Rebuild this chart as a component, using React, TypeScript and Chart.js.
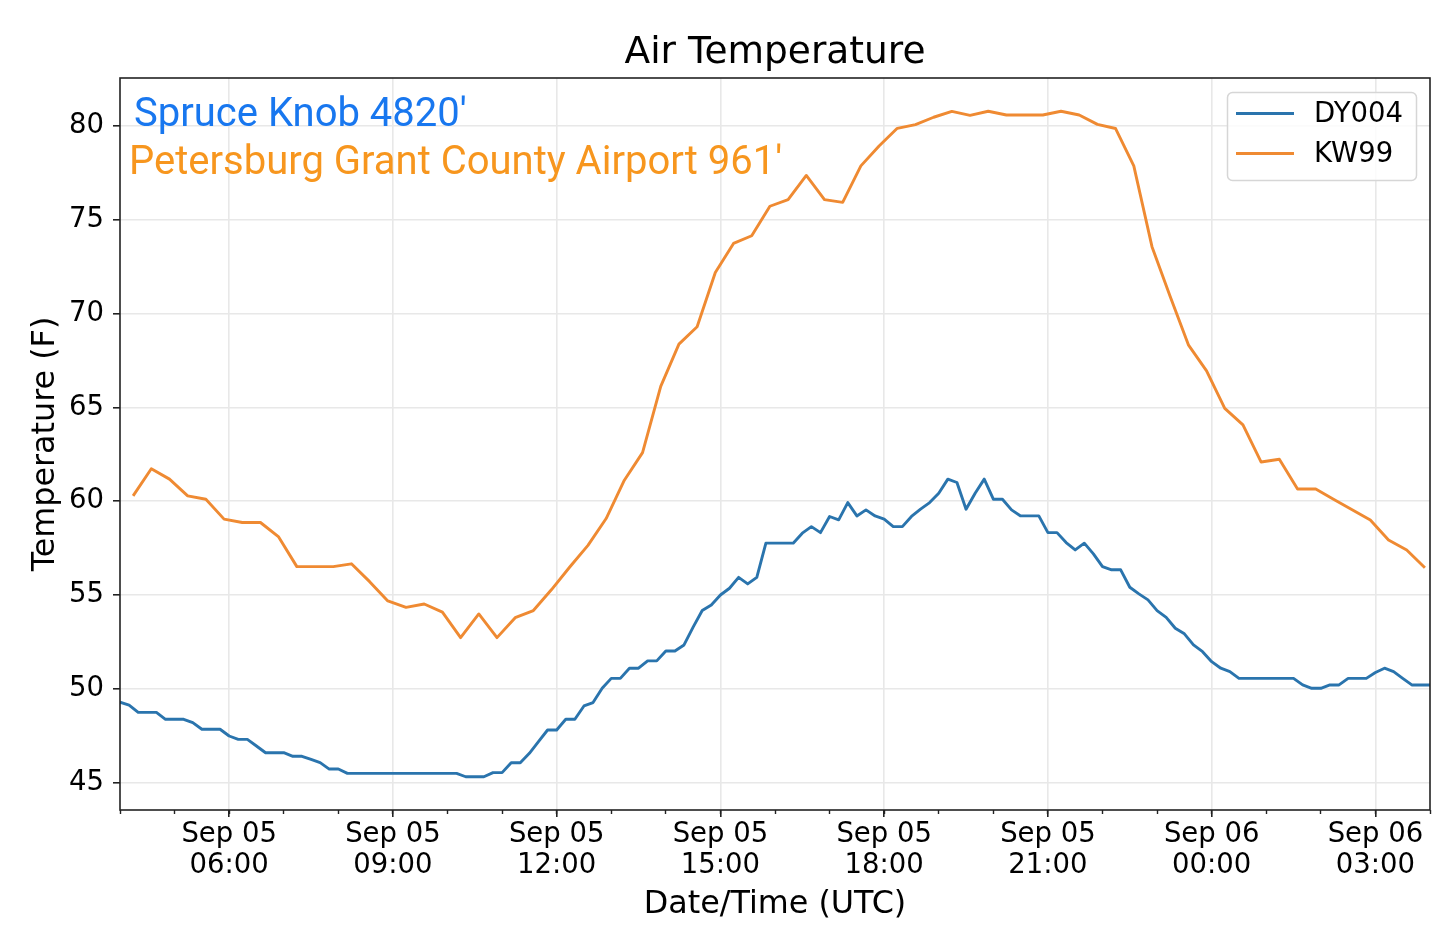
import React, { useEffect, useRef } from 'react';
import { Chart, registerables } from 'chart.js';

Chart.register(...registerables);

// x axis is hours after Sep 05 04:00 UTC
const dy004StartHour = 0;
const dy004StepHour = 1 / 6; // 10 minute obs
const dy004Temps = [
  49.3, 49.15, 48.76, 48.76, 48.76, 48.39, 48.39, 48.39, 48.21, 47.86,
  47.86, 47.86, 47.5, 47.32, 47.32, 46.97, 46.61, 46.61, 46.61, 46.42,
  46.42, 46.25, 46.08, 45.74, 45.74, 45.51, 45.51, 45.51, 45.51, 45.51,
  45.51, 45.51, 45.51, 45.51, 45.51, 45.51, 45.51, 45.51, 45.33, 45.33,
  45.33, 45.55, 45.55, 46.08, 46.08, 46.58, 47.2, 47.82, 47.82, 48.39,
  48.39, 49.1, 49.28, 50.04, 50.57, 50.57, 51.11, 51.11, 51.5, 51.5,
  52.03, 52.03, 52.35, 53.3, 54.18, 54.48, 55.01, 55.37, 55.95, 55.6,
  55.95, 57.77, 57.77, 57.77, 57.77, 58.3, 58.65, 58.33, 59.19, 59.01,
  59.93, 59.22, 59.54, 59.22, 59.05, 58.65, 58.65, 59.19, 59.58, 59.93,
  60.43, 61.18, 61.0, 59.58, 60.43, 61.18, 60.11, 60.11, 59.54, 59.22,
  59.22, 59.22, 58.33, 58.33, 57.8, 57.41, 57.77, 57.2, 56.52, 56.35,
  56.35, 55.42, 55.07, 54.75, 54.18, 53.82, 53.24, 52.94, 52.35, 51.99,
  51.46, 51.11, 50.93, 50.57, 50.57, 50.57, 50.57, 50.57, 50.57, 50.57,
  50.22, 50.04, 50.04, 50.22, 50.22, 50.57, 50.57, 50.57, 50.88, 51.11,
  50.93, 50.57, 50.22, 50.22, 50.22,
];

const kw99StartHour = 0.24;
const kw99StepHour = 1 / 3; // 20 minute obs
const kw99Temps = [
  60.29, 61.73, 61.18, 60.29, 60.11, 59.05, 58.87, 58.87, 58.1, 56.52,
  56.52, 56.52, 56.67, 55.72, 54.69, 54.35, 54.53, 54.1, 52.74, 54.0,
  52.74, 53.8, 54.18, 55.3, 56.5, 57.65, 59.08, 61.12, 62.59, 66.12,
  68.37, 69.29, 72.18, 73.73, 74.14, 75.71, 76.06, 77.35, 76.06, 75.92,
  77.86, 78.92, 79.86, 80.06, 80.45, 80.76, 80.55, 80.77, 80.57, 80.57,
  80.57, 80.77, 80.57, 80.07, 79.85, 77.86, 73.56, 70.91, 68.33, 66.94,
  64.95, 64.07, 62.09, 62.24, 60.65, 60.65, 60.1, 59.55, 59.0, 57.94,
  57.41, 56.46,
];

const majorTickHours = [2, 5, 8, 11, 14, 17, 20, 23];
const majorTickLabels = [
  ['Sep 05', '06:00'],
  ['Sep 05', '09:00'],
  ['Sep 05', '12:00'],
  ['Sep 05', '15:00'],
  ['Sep 05', '18:00'],
  ['Sep 05', '21:00'],
  ['Sep 06', '00:00'],
  ['Sep 06', '03:00'],
];
const minorTickHours = [
  0, 1, 2, 3, 4, 5, 6, 7, 8, 9, 10, 11, 12, 13, 14, 15, 16, 17, 18, 19, 20,
  21, 22, 23, 24,
];
const yTicks = [45, 50, 55, 60, 65, 70, 75, 80];

const stationNotes = ["Spruce Knob 4820'", "Petersburg Grant County Airport 961'"];

const FONT = "'DejaVu Sans', sans-serif";

const framePlugin = {
  id: 'frame',
  afterDatasetsDraw(chart: any) {
    const { ctx, chartArea: a } = chart;
    ctx.save();
    ctx.strokeStyle = '#222';
    ctx.lineWidth = 1.6;
    ctx.strokeRect(a.left, a.top, a.right - a.left, a.bottom - a.top);
    ctx.restore();
  },
};

const notesPlugin = {
  id: 'notes',
  afterDraw(chart: any) {
    const { ctx, chartArea: a } = chart;
    ctx.save();
    ctx.font = "40px Roboto, sans-serif";
    ctx.textBaseline = 'alphabetic';
    ctx.fillStyle = '#1877ef';
    ctx.fillText(stationNotes[0], a.left + 14, a.top + 48);
    ctx.fillStyle = '#f7961e';
    ctx.fillText(stationNotes[1], a.left + 9, a.top + 95.5);
    ctx.restore();
  },
};

const legendPlugin = {
  id: 'boxLegend',
  afterDraw(chart: any) {
    const { ctx, chartArea: a } = chart;
    const w = 189;
    const h = 88;
    const left = a.right - 13.5 - w;
    const top = a.top + 14.5;
    ctx.save();
    ctx.beginPath();
    ctx.roundRect(left, top, w, h, 5);
    ctx.fillStyle = 'rgba(255,255,255,0.8)';
    ctx.fill();
    ctx.strokeStyle = '#d6d6d6';
    ctx.lineWidth = 1.5;
    ctx.stroke();
    ctx.font = `27.5px ${FONT}`;
    ctx.textBaseline = 'middle';
    chart.data.datasets.forEach((ds: any, i: number) => {
      const y = top + 21 + i * 40;
      ctx.strokeStyle = ds.borderColor;
      ctx.lineWidth = 2.9;
      ctx.beginPath();
      ctx.moveTo(left + 8.5, y);
      ctx.lineTo(left + 66.5, y);
      ctx.stroke();
      ctx.fillStyle = '#000';
      ctx.fillText(ds.label, left + 86.5, y + 1);
    });
    ctx.restore();
  },
};

const App: React.FC = () => {
  const chartRef = useRef<HTMLCanvasElement>(null);

  useEffect(() => {
    if (!chartRef.current) return;
    const ctx = chartRef.current.getContext('2d');
    if (!ctx) return;

    const myChart = new Chart(ctx, {
      type: 'line',
      data: {
        datasets: [
          {
            label: 'DY004',
            data: dy004Temps.map((t, i) => ({ x: dy004StartHour + i * dy004StepHour, y: t })),
            borderColor: '#2a74ad',
            borderWidth: 2.9,
            pointRadius: 0,
            tension: 0,
            borderJoinStyle: 'round',
          },
          {
            label: 'KW99',
            data: kw99Temps.map((t, i) => ({ x: kw99StartHour + i * kw99StepHour, y: t })),
            borderColor: '#ef8a32',
            borderWidth: 2.9,
            pointRadius: 0,
            tension: 0,
            borderJoinStyle: 'round',
          },
        ],
      },
      options: {
        responsive: false,
        animation: false,
        layout: { padding: { left: 0, right: 8, top: 0, bottom: 0 } },
        plugins: {
          legend: { display: false },
          tooltip: { enabled: false },
          title: {
            display: true,
            fullSize: false,
            text: 'Air Temperature',
            color: '#000',
            font: { family: FONT, size: 37.5, weight: 'normal', lineHeight: 1.2 },
            padding: { top: 31, bottom: 2 },
          },
        },
        scales: {
          x: {
            type: 'linear',
            position: 'bottom',
            weight: 1,
            min: 0,
            max: 24,
            afterBuildTicks: (scale: any) => {
              scale.ticks = majorTickHours.map((v) => ({ value: v }));
            },
            afterFit: (scale: any) => {
              scale.height = 138;
            },
            ticks: {
              autoSkip: false,
              maxRotation: 0,
              padding: 2,
              color: '#000',
              font: { family: FONT, size: 27.5, lineHeight: 1.13 },
              callback: (_v: any, i: number) => majorTickLabels[i],
            },
            grid: {
              color: '#e8e8e8',
              lineWidth: 1.6,
              tickColor: '#222',
              tickWidth: 1.6,
              tickLength: 7,
            },
            border: { display: false },
            title: {
              display: true,
              text: 'Date/Time (UTC)',
              color: '#000',
              font: { family: FONT, size: 31.8, lineHeight: 1.2 },
              padding: { top: 0, bottom: 24 },
            },
          },
          xMinor: {
            type: 'linear',
            position: 'bottom',
            weight: 0,
            min: 0,
            max: 24,
            afterBuildTicks: (scale: any) => {
              scale.ticks = minorTickHours.map((v) => ({ value: v }));
            },
            afterFit: (scale: any) => {
              scale.height = 0;
            },
            ticks: { display: false },
            grid: {
              drawOnChartArea: false,
              tickColor: '#222',
              tickWidth: 1.4,
              tickLength: 4,
            },
            border: { display: false },
          },
          y: {
            type: 'linear',
            min: 43.56,
            max: 82.54,
            afterBuildTicks: (scale: any) => {
              scale.ticks = yTicks.map((v) => ({ value: v }));
            },
            afterFit: (scale: any) => {
              scale.width = 120;
            },
            ticks: {
              padding: 9,
              color: '#000',
              font: { family: FONT, size: 27.5 },
            },
            grid: {
              color: '#e8e8e8',
              lineWidth: 1.6,
              tickColor: '#222',
              tickWidth: 1.6,
              tickLength: 7,
            },
            border: { display: false },
            title: {
              display: true,
              text: 'Temperature (F)',
              color: '#000',
              font: { family: FONT, size: 31.8, lineHeight: 1.2 },
              padding: { top: 27, bottom: 0 },
            },
          },
        },
      },
      plugins: [framePlugin, notesPlugin, legendPlugin],
    } as any);

    return () => {
      myChart.destroy();
    };
  }, []);

  return (
    <div style={{ position: 'fixed', left: 0, top: 0, width: 1438, height: 948, background: '#fff' }}>
      <canvas ref={chartRef} width={1438} height={948} style={{ display: 'block' }}></canvas>
    </div>
  );
};

export default App;
